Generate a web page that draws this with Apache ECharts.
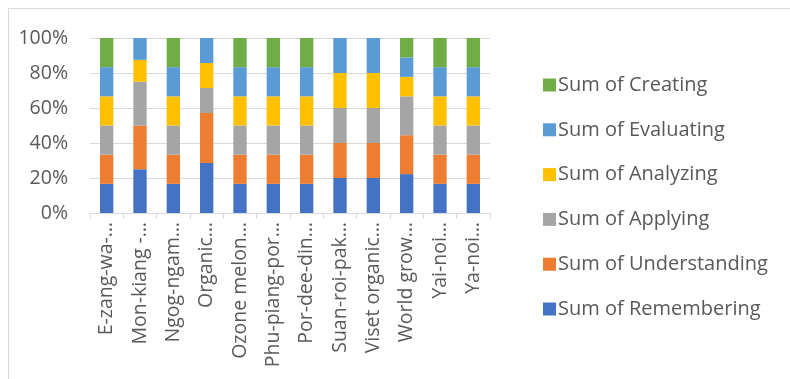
<!DOCTYPE html>
<html>
<head>
<meta charset="utf-8">
<script src="https://cdn.jsdelivr.net/npm/echarts@6/dist/echarts.min.js"></script>
<style>html,body{margin:0;padding:0;background:#fff;}#c{width:790px;height:379px;}</style>
</head>
<body>
<div id="c"></div>
<script>
const categories = ["E-zang-wa-…","Mon-kiang -…","Ngog-ngam…","Organic…","Ozone melon…","Phu-piang-por…","Por-dee-din…","Suan-roi-pak…","Viset organic…","World grow…","Yai-noi…","Ya-noi…"];
const remembering   = [1,2,1,2,1,1,1,1,1,2,1,1];
const understanding = [1,2,1,2,1,1,1,1,1,2,1,1];
const applying      = [1,2,1,1,1,1,1,1,1,2,1,1];
const analyzing     = [1,1,1,1,1,1,1,1,1,1,1,1];
const evaluating    = [1,1,1,1,1,1,1,1,1,1,1,1];
const creating      = [1,0,1,0,1,1,1,0,0,1,1,1];
const yTicks = ["0%","20%","40%","60%","80%","100%"];

const seriesDefs = [
  {name:"Sum of Remembering", data:remembering, color:"#4472C4"},
  {name:"Sum of Understanding", data:understanding, color:"#ED7D31"},
  {name:"Sum of Applying", data:applying, color:"#A5A5A5"},
  {name:"Sum of Analyzing", data:analyzing, color:"#FFC000"},
  {name:"Sum of Evaluating", data:evaluating, color:"#5B9BD5"},
  {name:"Sum of Creating", data:creating, color:"#70AD47"}
];
const totals = categories.map((_, i) => seriesDefs.reduce((s, d) => s + d.data[i], 0));
const FONT = "'Open Sans', 'Liberation Sans', sans-serif";
const chart = echarts.init(document.getElementById('c'), null, {renderer:'canvas'});
chart.setOption({
  animation:false,
  textStyle:{fontFamily:FONT},
  grid:{left:90, right:300, top:38, bottom:166, containLabel:false},
  legend:{
    orient:'vertical', left:538, top:70,
    data:seriesDefs.map(d=>d.name).reverse(),
    itemWidth:13, itemHeight:13, itemGap:24.8,
    icon:'rect',
    textStyle:{fontSize:20, color:'#595959', fontFamily:FONT, lineHeight:20, padding:[0,0,0,-3]}
  },
  xAxis:{
    type:'category', data:categories,
    axisLine:{lineStyle:{color:'#D9D9D9', width:1}},
    axisTick:{show:true, length:6, lineStyle:{color:'#D9D9D9'}},
    axisLabel:{rotate:90, color:'#595959', fontSize:19.5, margin:9, fontFamily:FONT}
  },
  yAxis:{
    type:'value', min:0, max:1, interval:0.2,
    axisLabel:{color:'#595959', fontSize:19.5, margin:22, fontFamily:FONT,
      formatter:v=>yTicks[Math.round(v/0.2)]},
    splitLine:{lineStyle:{color:'#D9D9D9', width:1}},
    axisLine:{show:false}, axisTick:{show:false}
  },
  graphic:[
    {type:'line', shape:{x1:8.5,y1:8.5,x2:790,y2:8.5}, style:{stroke:'#D9D9D9', lineWidth:1}},
    {type:'line', shape:{x1:8.5,y1:8.5,x2:8.5,y2:379}, style:{stroke:'#D9D9D9', lineWidth:1}}
  ],
  series:seriesDefs.map(d=>({
    name:d.name, type:'bar', stack:'total', barWidth:'40%',
    itemStyle:{color:d.color},
    data:d.data.map((v,i)=>v/totals[i])
  }))
});
</script>
</body>
</html>
